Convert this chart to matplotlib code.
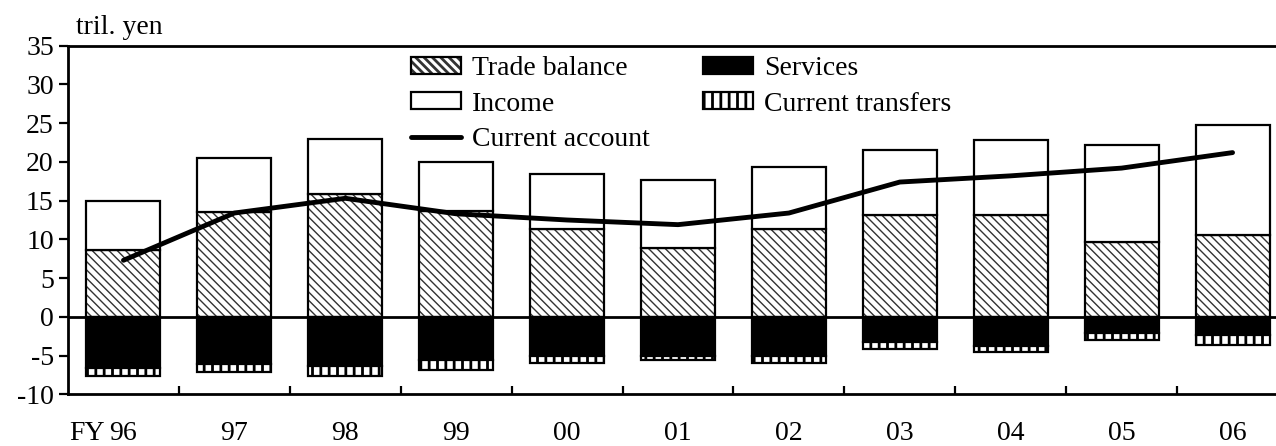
import matplotlib
matplotlib.use('Agg')
import matplotlib.pyplot as plt
import numpy as np

plt.rcParams['font.family'] = ['Liberation Serif', 'DejaVu Serif']
plt.rcParams['font.size'] = 20
plt.rcParams['axes.unicode_minus'] = False

# --- data (tril. yen) ---
years = ['96', '97', '98', '99', '00', '01', '02', '03', '04', '05', '06']
trade_balance = [8.6, 13.5, 15.9, 13.6, 11.4, 8.9, 11.4, 13.1, 13.1, 9.6, 10.5]
income = [6.4, 7.0, 7.0, 6.4, 7.0, 8.7, 8.0, 8.4, 9.7, 12.6, 14.3]
services = [-6.6, -6.1, -6.3, -5.6, -5.0, -5.0, -5.1, -3.3, -3.8, -2.1, -2.4]
current_transfers = [-1.1, -1.0, -1.3, -1.2, -0.9, -0.6, -0.9, -0.9, -0.8, -0.9, -1.2]
current_account = [7.3, 13.4, 15.3, 13.3, 12.5, 11.9, 13.4, 17.4, 18.2, 19.2, 21.2]

x = np.arange(len(years))
w = 0.667
edge_lw = 1.6


def hatch_lw(bars, lw):
    for b in bars:
        if hasattr(b, 'set_hatch_linewidth'):
            b.set_hatch_linewidth(lw)


fig = plt.figure(figsize=(12.76, 4.46), dpi=100)
# axis runs a bit past the right edge of the canvas
ax = fig.add_axes([68 / 1276, 51.7 / 446, 1220 / 1276, 348.6 / 446])

plt.rcParams['hatch.linewidth'] = 1.0
# trade balance: grey diagonal hatch + black outline
tb_h = ax.bar(x, trade_balance, w, color='white', edgecolor='#333333',
              hatch='\\\\\\\\', linewidth=0, zorder=2)
hatch_lw(tb_h, 1.0)
tb_e = ax.bar(x, trade_balance, w, fill=False, edgecolor='black',
              linewidth=edge_lw, zorder=3)

inc = ax.bar(x, income, w, bottom=trade_balance, color='white',
             edgecolor='black', linewidth=edge_lw, zorder=3)

sv = ax.bar(x, services, w, color='black', edgecolor='black',
            linewidth=edge_lw, zorder=3)

plt.rcParams['hatch.linewidth'] = 2.0
ct = ax.bar(x, current_transfers, w, bottom=services, color='white',
            edgecolor='black', hatch='||', linewidth=edge_lw, zorder=3)
hatch_lw(ct, 2.0)

ca, = ax.plot(x, current_account, color='black', lw=3.5,
              solid_capstyle='round', solid_joinstyle='round', zorder=5)

ax.axhline(0, color='black', lw=2, zorder=4)

# axes
ax.set_xlim(-0.5, 10.5)
ax.set_ylim(-10, 35)
ax.set_yticks(np.arange(-10, 36, 5))
ax.spines['right'].set_visible(False)
for s in ['left', 'bottom', 'top']:
    ax.spines[s].set_linewidth(2)
ax.tick_params(axis='y', direction='out', length=6.2, width=1.6, pad=4,
               labelsize=20)
ax.set_xticks(x)
ax.set_xticklabels(years)
ax.tick_params(axis='x', which='major', length=0, pad=19.5, labelsize=20)
ax.set_xticks(x[:-1] + 0.5, minor=True)
ax.tick_params(axis='x', which='minor', direction='in', length=6, width=1.6)

ax.annotate('FY', xy=(0, 0), xycoords=('data', 'axes fraction'),
            xytext=(-19, -19.5 * 100 / 72), textcoords='offset pixels',
            ha='right', va='top', fontsize=20)

fig.text(76 / 1276, (446 - 34.3) / 446, 'tril. yen', ha='left',
         va='baseline', fontsize=20)

handles = [(tb_h[0], tb_e[0]), inc[0], ca, sv[0], ct[0]]
labels = ['Trade balance', 'Income', 'Current account', 'Services',
          'Current transfers']
fig.legend(handles, labels, ncol=2, loc='upper left',
           bbox_to_anchor=(411 / 1276, (446 - 56) / 446),
           frameon=False, fontsize=20, borderpad=0, borderaxespad=0,
           handlelength=1.8, handleheight=0.55, handletextpad=0.4,
           labelspacing=0.38, columnspacing=1.9)

fig.savefig('out.png', dpi=100)
